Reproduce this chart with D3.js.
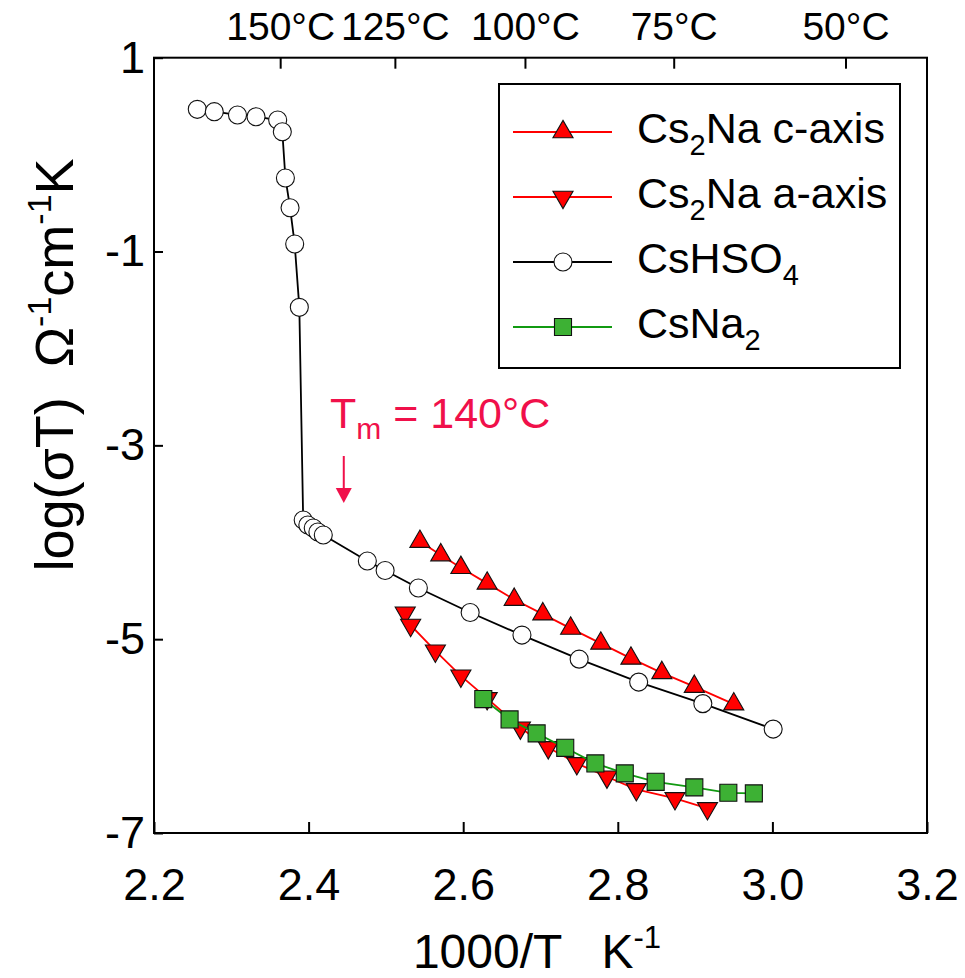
<!DOCTYPE html>
<html>
<head>
<meta charset="utf-8">
<script src="https://cdn.jsdelivr.net/npm/d3@7"></script>
<style>
  body { margin: 0; background: #fff; }
  text { font-family: Arial, "Liberation Sans", sans-serif; white-space: pre; }
</style>
</head>
<body>
<svg id="chart" width="965" height="978"></svg>
<script>
// Conductivity data: x = 1000/T (K^-1), y = log(sigma*T)
const hso4X = [2.256, 2.278, 2.308, 2.332, 2.360, 2.366, 2.370, 2.376, 2.382, 2.388,
               2.393, 2.399, 2.406, 2.412, 2.419, 2.476, 2.499, 2.542, 2.609, 2.676,
               2.750, 2.827, 2.910, 3.001];
const hso4Y = [0.467, 0.443, 0.409, 0.391, 0.357, 0.236, -0.241, -0.548, -0.923, -1.576,
               -3.771, -3.822, -3.853, -3.894, -3.925, -4.193, -4.291, -4.472, -4.725, -4.958,
               -5.206, -5.443, -5.665, -5.928];

const cAxisX = [2.544, 2.571, 2.597, 2.631, 2.666, 2.703, 2.739, 2.778, 2.817, 2.857, 2.899, 2.950];
const cAxisY = [-3.993, -4.132, -4.263, -4.424, -4.591, -4.741, -4.889, -5.043, -5.198, -5.347, -5.489, -5.670];

const aAxisX = [2.525, 2.532, 2.564, 2.597, 2.631, 2.674, 2.710, 2.747, 2.786, 2.824, 2.874, 2.916];
const aAxisY = [-4.728, -4.855, -5.120, -5.378, -5.611, -5.914, -6.117, -6.282, -6.420, -6.550, -6.643, -6.746];

const csna2X = [2.626, 2.660, 2.695, 2.732, 2.771, 2.809, 2.849, 2.899, 2.943, 2.976];
const csna2Y = [-5.618, -5.828, -5.972, -6.121, -6.282, -6.385, -6.472, -6.529, -6.585, -6.591];

const xTicks = [2.2, 2.4, 2.6, 2.8, 3.0, 3.2];
const yTicks = [1, -1, -3, -5, -7];
const celsiusTicks = [150, 125, 100, 75, 50];

const svg = d3.select("#chart");
const x = d3.scaleLinear().domain([2.2, 3.2]).range([154, 927]);
const y = d3.scaleLinear().domain([-7, 1]).range([833, 57.7]);

const zip = (xs, ys) => xs.map((v, i) => [v, ys[i]]);

// axes
const axBottom = svg.append("g").attr("transform", `translate(0,${y(-7)})`)
  .call(d3.axisBottom(x).tickValues(xTicks).tickFormat(d3.format(".1f")).tickSize(-11).tickPadding(35));
const axLeft = svg.append("g").attr("transform", `translate(${x(2.2)},0)`)
  .call(d3.axisLeft(y).tickValues(yTicks).tickFormat(d => d).tickSize(-9).tickPadding(9));
const axTop = svg.append("g").attr("transform", `translate(0,${y(1)})`)
  .call(d3.axisTop(x).tickValues(celsiusTicks.map(c => 1000 / (c + 273.15)))
    .tickFormat((d, i) => celsiusTicks[i] + "°C").tickSize(-11).tickPadding(18));

[axBottom, axLeft, axTop].forEach(a => {
  a.select(".domain").remove();
  a.selectAll("line").attr("stroke", "#000").attr("stroke-width", 2);
  a.selectAll("text").attr("fill", "#000").attr("font-family", "Arial, 'Liberation Sans', sans-serif");
});
axBottom.selectAll("text").attr("font-size", 45);
axLeft.selectAll("text").attr("font-size", 45);
axTop.selectAll("text").attr("font-size", 39);

svg.append("rect")
  .attr("x", x(2.2)).attr("y", y(1))
  .attr("width", x(3.2) - x(2.2)).attr("height", y(-7) - y(1))
  .attr("fill", "none").attr("stroke", "#000").attr("stroke-width", 2);

// series
const line = d3.line().x(d => x(d[0])).y(d => y(d[1]));
const series = [
  { name: "c", pts: zip(cAxisX, cAxisY), stroke: "#ff0000", sym: d3.symbolTriangle, rot: 0, fill: "#ff0000", size: 175 },
  { name: "a", pts: zip(aAxisX, aAxisY), stroke: "#ff0000", sym: d3.symbolTriangle, rot: 180, fill: "#ff0000", size: 175 },
  { name: "h", pts: zip(hso4X, hso4Y), stroke: "#000000", sym: d3.symbolCircle, rot: 0, fill: "#ffffff", size: 255 },
  { name: "n", pts: zip(csna2X, csna2Y), stroke: "#119a11", sym: d3.symbolSquare, rot: 0, fill: "#3db134", size: 290 }
];

series.forEach(s => {
  const g = svg.append("g");
  g.append("path").datum(s.pts).attr("d", line)
    .attr("fill", "none").attr("stroke", s.stroke).attr("stroke-width", 1.8);
  g.selectAll("path.m").data(s.pts).join("path").attr("class", "m")
    .attr("d", d3.symbol().type(s.sym).size(s.size))
    .attr("transform", d => `translate(${x(d[0])},${y(d[1])}) rotate(${s.rot})`)
    .attr("fill", s.fill).attr("stroke", "#111").attr("stroke-width", 1.1);
});

// axis titles
const xt = svg.append("text").attr("x", 537).attr("y", 968)
  .attr("text-anchor", "middle").attr("font-size", 48);
xt.append("tspan").text("1000/T   K");
xt.append("tspan").attr("dy", -20).attr("font-size", 31).text("-1");

const yt = svg.append("text").attr("transform", "translate(73,365) rotate(-90)")
  .attr("text-anchor", "middle").attr("font-size", 54);
yt.append("tspan").text("log(σT)  Ω");
yt.append("tspan").attr("dy", -22).attr("font-size", 34).text("-1");
yt.append("tspan").attr("dy", 22).text("cm");
yt.append("tspan").attr("dy", -22).attr("font-size", 34).text("-1");
yt.append("tspan").attr("dy", 22).text("K");

// melting point annotation
const red = "#f0104a";
const tm = svg.append("text").attr("x", 330).attr("y", 428).attr("font-size", 43).attr("fill", red);
tm.append("tspan").text("T");
tm.append("tspan").attr("dy", 11).attr("font-size", 30).text("m");
tm.append("tspan").attr("dy", -11).text(" = 140°C");
svg.append("line").attr("x1", x(2.4455)).attr("x2", x(2.4455)).attr("y1", 456).attr("y2", 490)
  .attr("stroke", red).attr("stroke-width", 2);
svg.append("path")
  .attr("d", `M${x(2.4455) - 8},488 L${x(2.4455) + 8},488 L${x(2.4455)},503 Z`)
  .attr("fill", red);

// legend
const lg = svg.append("g");
lg.append("rect").attr("x", 499).attr("y", 84).attr("width", 401).attr("height", 284)
  .attr("fill", "#fff").attr("stroke", "#000").attr("stroke-width", 2);
const legendRows = [
  { s: series[0], label: [["Cs"], ["2", "sub"], ["Na c-axis"]] },
  { s: series[1], label: [["Cs"], ["2", "sub"], ["Na a-axis"]] },
  { s: series[2], label: [["CsHSO"], ["4", "sub"]] },
  { s: series[3], label: [["CsNa"], ["2", "sub"]] }
];
legendRows.forEach((r, i) => {
  const cy = 132 + i * 65;
  lg.append("line").attr("x1", 513).attr("x2", 612).attr("y1", cy).attr("y2", cy)
    .attr("stroke", r.s.stroke).attr("stroke-width", 1.8);
  lg.append("path").attr("d", d3.symbol().type(r.s.sym).size(r.s.size))
    .attr("transform", `translate(563,${cy}) rotate(${r.s.rot})`)
    .attr("fill", r.s.fill).attr("stroke", "#111").attr("stroke-width", 1.1);
  const t = lg.append("text").attr("x", 637).attr("y", cy + 11).attr("font-size", 43);
  let sub = false;
  r.label.forEach(([str, kind]) => {
    const ts = t.append("tspan").text(str);
    if (kind === "sub") { ts.attr("dy", 12).attr("font-size", 29); sub = true; }
    else if (sub) { ts.attr("dy", -12); sub = false; }
  });
});
</script>
</body>
</html>
